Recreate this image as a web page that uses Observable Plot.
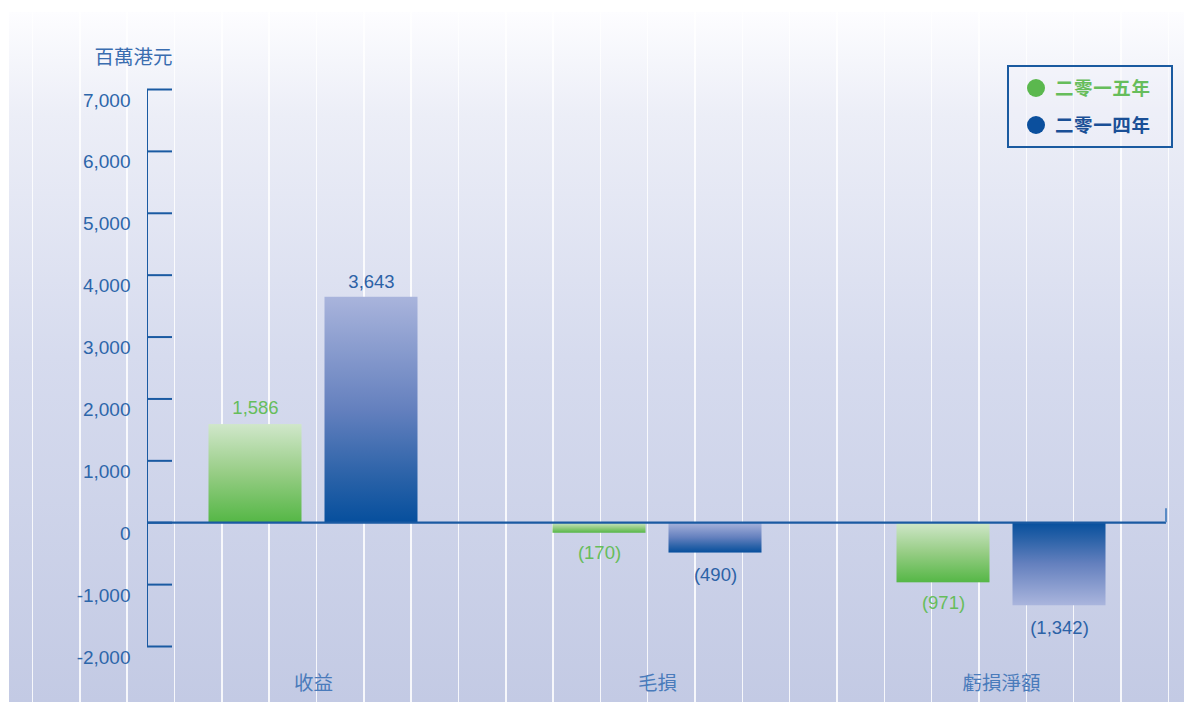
<!DOCTYPE html>
<html><head><meta charset="utf-8">
<script src="https://cdn.jsdelivr.net/npm/d3@7"></script>
<script src="https://cdn.jsdelivr.net/npm/@observablehq/plot@0.6"></script>
<style>
body{margin:0;width:1184px;height:702px;overflow:hidden;background:#fff;position:relative;font-family:"Liberation Sans",Arial,sans-serif}
#panel{position:absolute;left:9px;top:12px;width:1175px;height:690px;
background:
repeating-linear-gradient(90deg, rgba(255,255,255,0) 0px, rgba(255,255,255,0) 22.6px, rgba(255,255,255,0.85) 22.6px, rgba(255,255,255,0.85) 24.2px, rgba(255,255,255,0) 24.2px, rgba(255,255,255,0) 47.33px),
linear-gradient(180deg,#fdfdff 0%,#eceef7 15%,#d6dbee 50%,#c3cae4 100%);}
#chart{position:absolute;left:0;top:0}
#legend{position:absolute;left:1007px;top:65px;width:162px;height:79px;border:2px solid #1a5aa0;background:rgba(240,242,250,0.35)}
#legend .item{position:absolute;left:18px;height:37px;line-height:37px;white-space:nowrap;font-family:"Noto Sans CJK TC",sans-serif;font-size:18.5px;font-weight:bold;letter-spacing:0.6px}
#legend .dot{display:inline-block;width:18px;height:18px;border-radius:50%;vertical-align:middle;margin-right:10px;position:relative;top:-2px}
</style></head><body>
<div id="panel"></div>
<div id="chart"></div>
<div id="legend"></div>
<script>
const categories = ["收益", "毛損", "虧損淨額"];
const years = ["二零一五年", "二零一四年"];
const values2015 = [1586, -170, -971];
const values2014 = [3643, -490, -1342];
const yTicks = [-2000, -1000, 0, 1000, 2000, 3000, 4000, 5000, 6000, 7000];
const unitLabel = "百萬港元";

const green = "#5bb84e", greenText = "#66bd5b";
const blue = "#0b4f9d", blueText = "#2c62a6";
const axisBlue = "#1a5aa2";

const rows = [];
categories.forEach((c, i) => {
  rows.push({category: c, year: years[0], value: values2015[i]});
  rows.push({category: c, year: years[1], value: values2014[i]});
});
const r15 = rows.filter(d => d.year === years[0]);
const r14 = rows.filter(d => d.year === years[1]);

const fmtVal = v => v < 0 ? "(" + d3.format(",")(-v) + ")" : d3.format(",")(v);
const fmtTick = v => v < 0 ? "-" + d3.format(",")(-v) : d3.format(",")(v);

const W = 1184, H = 702, mL = 147, mR = 18, mT = 89, mB = 56;
const frameW = W - mL - mR;
const band = 344, barW = 93, gap = 23;
const greenL = band / 2 - gap / 2 - barW;   // green left inset
const blueL = band / 2 + gap / 2;           // blue left inset
const offs = gap / 2 + barW / 2;

const blueDown = r14.filter(d => d.category === "虧損淨額");
const blueUp = r14.filter(d => d.category !== "虧損淨額");

const chart = Plot.plot({
  width: W, height: H,
  marginLeft: mL, marginRight: mR, marginTop: mT, marginBottom: mB,
  style: {background: "transparent", fontFamily: "'Liberation Sans', Arial, sans-serif", fontSize: "19px", color: axisBlue, overflow: "visible"},
  x: {domain: categories, range: [mL - 6.5, W - mR + 6.5], padding: 0, axis: null},
  y: {domain: [-2000, 7000], ticks: yTicks, tickSize: 0, tickFormat: () => "", line: true, label: null},
  marks: [
    Plot.barY(r15, {x: "category", y: "value", fill: "url(#gGreen)", insetLeft: greenL, insetRight: band - greenL - barW}),
    Plot.barY(blueUp, {x: "category", y: "value", fill: "url(#gBlueUp)", insetLeft: blueL, insetRight: band - blueL - barW}),
    Plot.barY(blueDown, {x: "category", y: "value", fill: "url(#gBlueDown)", insetLeft: blueL, insetRight: band - blueL - barW}),
    Plot.ruleY(yTicks, {y: d => d, stroke: axisBlue, strokeWidth: 2, insetRight: frameW - 25}),
    Plot.ruleY([0], {stroke: axisBlue, strokeWidth: 2.2}),
    Plot.text(yTicks, {y: d => d, text: fmtTick, frameAnchor: "left", dx: -17, dy: 11, textAnchor: "end", fill: "#2d66aa", fontSize: 19}),
    Plot.text([unitLabel], {frameAnchor: "top-left", text: d => d, dx: 25, dy: -39, textAnchor: "end", fill: "#3a6db0", fontSize: 19.5, fontFamily: "'Noto Sans CJK TC', sans-serif"}),
    Plot.text(r15.filter(d => d.value > 0), {x: "category", y: "value", text: d => fmtVal(d.value), dx: -offs, dy: -11, lineAnchor: "bottom", fill: greenText, fontSize: 18.5}),
    Plot.text(r15.filter(d => d.value < 0), {x: "category", y: "value", text: d => fmtVal(d.value), dx: -offs, dy: 13, lineAnchor: "top", fill: greenText, fontSize: 18.5}),
    Plot.text(r14.filter(d => d.value > 0), {x: "category", y: "value", text: d => fmtVal(d.value), dx: offs, dy: -9, lineAnchor: "bottom", fill: blueText, fontSize: 18.5}),
    Plot.text(r14.filter(d => d.value < 0), {x: "category", y: "value", text: d => fmtVal(d.value), dx: offs, dy: 15, lineAnchor: "top", fill: blueText, fontSize: 18.5}),
    Plot.text(categories, {x: d => d, text: d => d, frameAnchor: "bottom", dy: 43, fill: "#4a7bbb", fontSize: 19.5, fontFamily: "'Noto Sans CJK TC', sans-serif"})
  ]
});

const svg = d3.select(chart.tagName.toLowerCase() === "svg" ? chart : chart.querySelector("svg"));
const defs = svg.insert("defs", ":first-child");
function grad(id, stops) {
  const g = defs.append("linearGradient").attr("id", id).attr("x1", 0).attr("y1", 0).attr("x2", 0).attr("y2", 1);
  stops.forEach(([o, c]) => g.append("stop").attr("offset", o).attr("stop-color", c));
}
grad("gGreen", [[0, "#d0e7ca"], [0.5, "#97cd85"], [1, "#55b746"]]);
grad("gBlueUp", [[0, "#a9b4dc"], [0.5, "#6480be"], [0.8, "#2a62a8"], [1, "#064f9d"]]);
grad("gBlueDown", [[0, "#064f9d"], [0.2, "#2a62a8"], [0.5, "#6480be"], [1, "#aab5dd"]]);

// end tick on the zero line, placed with the y scale
const ys = chart.scale("y");
const y0 = ys.apply(0);
svg.append("line").attr("x1", W - mR).attr("x2", W - mR).attr("y1", y0).attr("y2", y0 - 14)
  .attr("stroke", "#5a8bc5").attr("stroke-width", 2);

document.getElementById("chart").appendChild(chart);

const legend = document.getElementById("legend");
[[years[0], green, greenText], [years[1], blue, "#1a4f96"]].forEach(([t, c, tc], i) => {
  const it = document.createElement("div");
  it.className = "item";
  it.style.top = (2 + i * 37) + "px";
  it.innerHTML = `<span class="dot" style="background:${c}"></span><span style="color:${tc}">${t}</span>`;
  legend.appendChild(it);
});
</script>
</body></html>
